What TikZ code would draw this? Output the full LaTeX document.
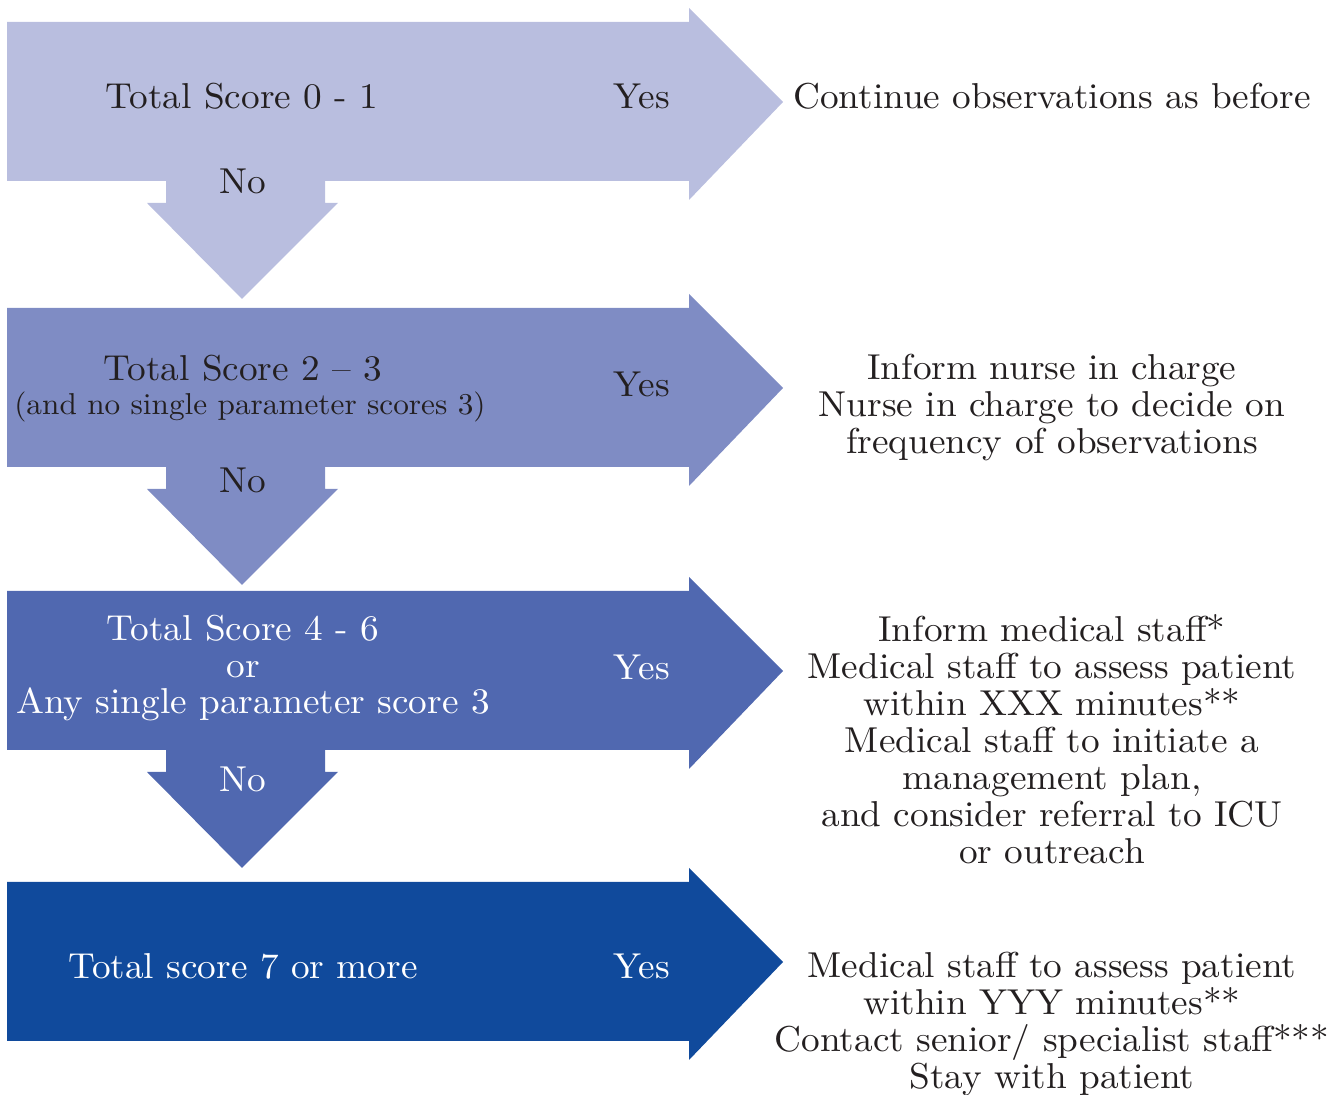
\documentclass[tikz,border=0pt]{standalone}
\usepackage{fontspec}
\setmainfont{lmroman10-regular.otf}[FakeStretch=1.035]
\definecolor{cA}{HTML}{B9BEDF}
\definecolor{cB}{HTML}{7F8CC4}
\definecolor{cC}{HTML}{5068B0}
\definecolor{cD}{HTML}{104A9C}
\definecolor{ink}{HTML}{231F20}
\tikzset{
  lbl/.style={inner sep=0pt, align=center, font=\fontsize{18}{18.5}\selectfont},
  dk/.style={lbl, text=ink},
  wt/.style={lbl, text=white},
  small/.style={font=\fontsize{15.1}{16}\selectfont}
}
\newcommand\flowarrow[2]{%
  \fill[#2] (7,#1) -- (689,#1) -- (689,#1-14) -- (783,#1+80) -- (689,#1+178) -- (689,#1+159)
    -- (7,#1+159) -- cycle;}
\newcommand\flowarrowdown[2]{%
  \fill[#2] (7,#1) -- (689,#1) -- (689,#1-14) -- (783,#1+80) -- (689,#1+178) -- (689,#1+159)
    -- (325,#1+159) -- (325,#1+181) -- (338,#1+181) -- (242,#1+277) -- (147,#1+181)
    -- (166,#1+181) -- (166,#1+159) -- (7,#1+159) -- cycle;}
\begin{document}
\begin{tikzpicture}[x=0.5pt,y=-0.5pt]
\useasboundingbox (0,0) rectangle (1335,1095);
\flowarrowdown{22}{cA}
\flowarrowdown{308}{cB}
\flowarrowdown{591}{cC}
\flowarrow{882}{cD}
% arrow 1
\node[dk] (s1) at (242,96) {Total Score 0 - 1};
\node[dk] (y1) at (642,96) {Yes};
\node[dk] (n1) at (243,181) {No};
\node[dk] (r1) at (1052,96) {Continue observations as before};
% arrow 2
\node[dk] (s2) at (243,368) {Total Score 2 -- 3};
\node[dk,small] (s2b) at (250,407) {(and no single parameter scores 3)};
\node[dk] (y2) at (642,384) {Yes};
\node[dk] (n2) at (243,480) {No};
\node[dk] (r2) at (1052,408) {Inform nurse in charge\\Nurse in charge to decide on\\frequency of observations};
% arrow 3
\node[wt] (s3) at (243,628) {Total Score 4 - 6};
\node[wt] (s3b) at (243,670) {or};
\node[wt] (s3c) at (253,704) {Any single parameter score 3};
\node[wt] (y3) at (642,667) {Yes};
\node[wt] (n3) at (243,779) {No};
\node[dk] (r3) at (1052,739) {Inform medical staff*\\Medical staff to assess patient\\within XXX minutes**\\Medical staff to initiate a\\management plan,\\and consider referral to ICU\\or outreach};
% arrow 4
\node[wt] (s4) at (243,966) {Total score 7 or more};
\node[wt] (y4) at (642,966) {Yes};
\node[dk] (r4) at (1052,1024) {Medical staff to assess patient\\within YYY minutes**\\Contact senior/ specialist staff***\\Stay with patient};
\end{tikzpicture}
\end{document}
